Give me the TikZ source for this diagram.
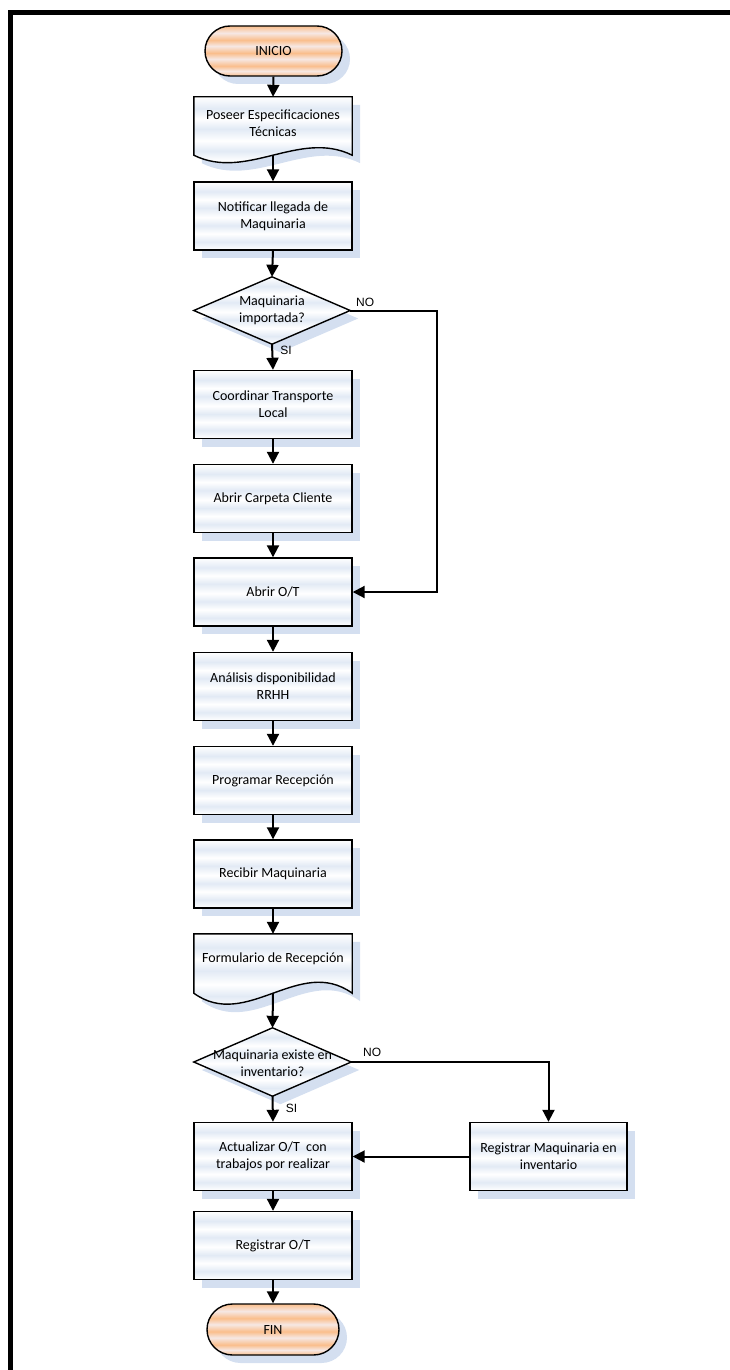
\documentclass[tikz,border=0pt]{standalone}
\usepackage{fontspec}
\setmainfont{Carlito}
\newfontfamily\arialf{Liberation Sans}
\usetikzlibrary{arrows.meta,shapes.misc,shadows,calc}
\definecolor{bandc}{RGB}{226,234,245}
\definecolor{shadowc}{RGB}{212,223,240}
\definecolor{orangec}{RGB}{250,190,140}
\definecolor{orangel}{RGB}{246,232,228}
\pgfdeclareverticalshading{bandfill}{100bp}{color(0bp)=(white); color(25bp)=(white); color(31bp)=(bandc); color(37bp)=(white); color(43bp)=(bandc); color(49bp)=(white); color(56bp)=(bandc); color(62bp)=(white); color(68bp)=(bandc); color(75bp)=(white); color(100bp)=(white)}
\pgfdeclareverticalshading{orangefill}{100bp}{color(0bp)=(orangec); color(25bp)=(orangec); color(30bp)=(orangel); color(35bp)=(orangec); color(42bp)=(orangel); color(48bp)=(orangec); color(55bp)=(orangel); color(61bp)=(orangec); color(68bp)=(orangel); color(75bp)=(orangec); color(100bp)=(orangec)}
\tikzset{
  shad/.style={drop shadow={shadow xshift=8pt,shadow yshift=-8pt,fill=shadowc,opacity=1}},
  txt/.style={font=\fontsize{14}{17}\selectfont, align=center},
  proc/.style={draw, line width=1.4pt, shading=bandfill, shad, minimum width=158pt, minimum height=68pt, inner sep=0pt, txt},
  term/.style={rounded rectangle, draw, line width=1.4pt, shading=orangefill, shad, minimum height=50pt, inner sep=0pt, txt},
  area/.style={inner sep=0pt, txt},
  outline/.style={draw, line width=1.4pt, shading=bandfill, shad},
  arr/.style={line width=2pt, -{Triangle[width=12pt,length=12pt]}},
  lbl/.style={font=\arialf\fontsize{12}{14}\selectfont, inner sep=0pt}
}
\begin{document}
\begin{tikzpicture}[x=1pt,y=-1pt]
\useasboundingbox (0,0) rectangle (730,1370);
\draw[line width=5pt, line join=miter] (730,12.5) -- (10.8,12.5) -- (10.8,1370);

% terminals and boxes
\node[term, minimum width=137pt] (start) at (273.5,51) {INICIO};
\node[area, minimum width=158pt, minimum height=58pt] (doc1) at (273,126) {};
\path[outline] (doc1.north west) -- (doc1.north east) -- (doc1.south east)
  .. controls ($(doc1.south east)+(-52.7,-26)$) and ($(doc1.south west)+(52.7,26)$) .. (doc1.south west) -- cycle;
\node[txt] at (273,123.5) {Poseer Especificaciones\\Técnicas};

\node[proc] (n2) at (273,216) {Notificar llegada de\\Maquinaria};

\node[area, minimum width=156pt, minimum height=67pt] (d1) at (272,310.5) {};
\path[outline] (d1.west) -- (d1.north) -- (d1.east) -- (d1.south) -- cycle;
\node[txt] at (272,310) {Maquinaria\\importada?};

\node[proc] (n3) at (273,404.5) {Coordinar Transporte\\Local};
\node[proc] (n4) at (273,498.5) {Abrir Carpeta Cliente};
\node[proc] (n5) at (273,592) {Abrir O/T};
\node[proc] (n6) at (273,686.5) {Análisis disponibilidad\\RRHH};
\node[proc] (n7) at (273,780.5) {Programar Recepción};
\node[proc] (n8) at (273,874) {Recibir Maquinaria};

\node[area, minimum width=158pt, minimum height=59pt] (doc2) at (273,963.5) {};
\path[outline] (doc2.north west) -- (doc2.north east) -- (doc2.south east)
  .. controls ($(doc2.south east)+(-52.7,-38)$) and ($(doc2.south west)+(52.7,38)$) .. (doc2.south west) -- cycle;
\node[txt] at (273,959) {Formulario de Recepción};

\node[area, minimum width=157pt, minimum height=68pt] (d2) at (272.5,1062) {};
\path[outline] (d2.west) -- (d2.north) -- (d2.east) -- (d2.south) -- cycle;
\node[txt] at (272.5,1063.5) {Maquinaria existe en\\inventario?};

\node[proc] (n9) at (273,1156.5) {Actualizar O/T\ \ con\\trabajos por realizar};
\node[proc, minimum width=157pt] (n10) at (548.5,1156.5) {Registrar Maquinaria en\\inventario};
\node[proc] (n11) at (273,1245.5) {Registrar O/T};
\node[term, minimum width=132pt, minimum height=51pt] (fin) at (273,1329.5) {FIN};

% connectors
\draw[arr] (start.south) -- (doc1.north);
\draw[arr] (doc1.south) -- (n2.north);
\draw[arr] (n2.south) -- (d1.north);
\draw[arr] (d1.south) -- (n3.north);
\draw[arr] (n3.south) -- (n4.north);
\draw[arr] (n4.south) -- (n5.north);
\draw[arr] (d1.east) -- ++(87,0) |- (n5.east);
\draw[arr] (n5.south) -- (n6.north);
\draw[arr] (n6.south) -- (n7.north);
\draw[arr] (n7.south) -- (n8.north);
\draw[arr] (n8.south) -- (doc2.north);
\draw[arr] (doc2.south) -- (d2.north);
\draw[arr] (d2.south) -- (n9.north);
\draw[arr] (d2.east) -| (n10.north);
\draw[arr] (n10.west) -- (n9.east);
\draw[arr] (n9.south) -- (n11.north);
\draw[arr] (n11.south) -- (fin.north);

% labels
\node[lbl] (no1) at ($(d1.east)+(15,-8)$) {NO};
\node[lbl] (si1) at ($(d1.south)+(14,6)$) {SI};
\node[lbl] (no2) at ($(d2.east)+(21,-10)$) {NO};
\node[lbl] (si2) at ($(d2.south)+(19,12)$) {SI};
\end{tikzpicture}
\end{document}
